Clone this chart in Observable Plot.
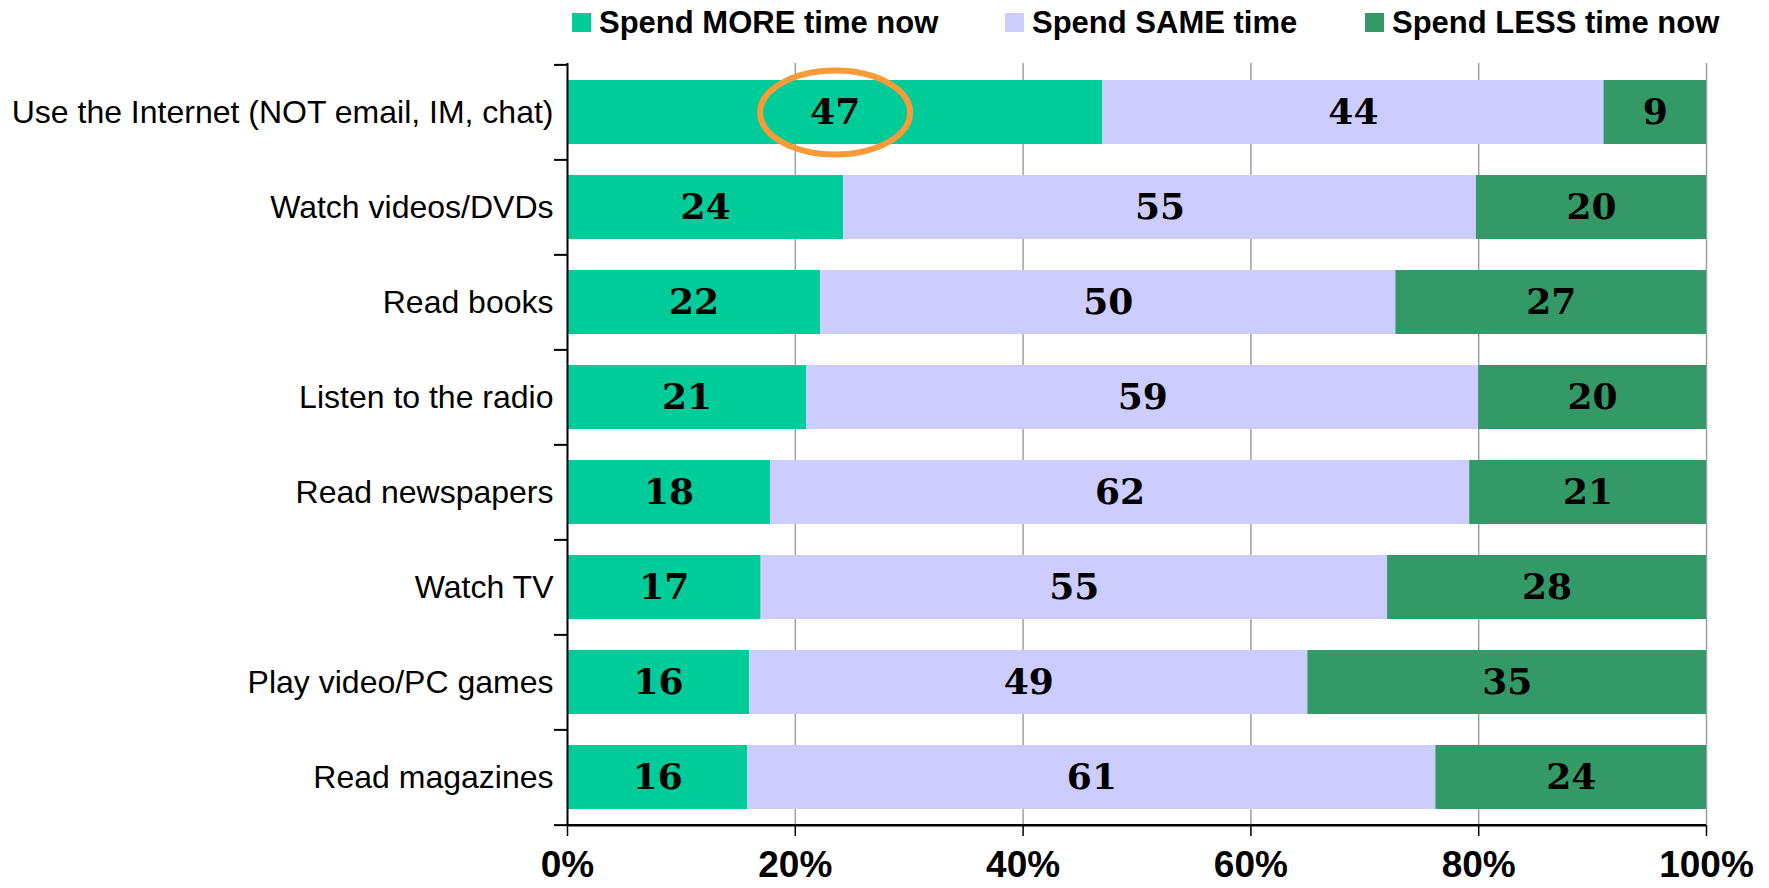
<!DOCTYPE html>
<html>
<head>
<meta charset="utf-8">
<script src="https://cdn.jsdelivr.net/npm/d3@7"></script>
<script src="https://cdn.jsdelivr.net/npm/@observablehq/plot@0.6"></script>
<style>
  html, body { margin: 0; padding: 0; background: #fff; }
  #wrap { position: relative; width: 1769px; height: 888px; overflow: hidden; }
  #legend { position: relative; height: 45px; }
  .item { position: absolute; top: 0; height: 45px; display: flex; align-items: center;
          font-family: "Liberation Sans", Arial, sans-serif;
          font-weight: bold; font-size: 31px; color: #000; white-space: nowrap; }
  .sw { width: 19px; height: 19px; margin-right: 8px; }
  svg { display: block; }
</style>
</head>
<body>
<div id="wrap">
  <div id="legend"></div>
  <div id="chart"></div>
</div>
<script>
const activities = [
  "Use the Internet (NOT email, IM, chat)",
  "Watch videos/DVDs",
  "Read books",
  "Listen to the radio",
  "Read newspapers",
  "Watch TV",
  "Play video/PC games",
  "Read magazines"
];
const series = ["Spend MORE time now", "Spend SAME time", "Spend LESS time now"];
const moreTime = [47, 24, 22, 21, 18, 17, 16, 16];
const sameTime = [44, 55, 50, 59, 62, 55, 49, 61];
const lessTime = [9, 20, 27, 20, 21, 28, 35, 24];
const xTicks = [0, 0.2, 0.4, 0.6, 0.8, 1];
const gridTicks = [0.2, 0.4, 0.6, 0.8, 1];
const seriesColors = ["#00CC99", "#CCCCFF", "#339966"];
const highlightActivity = activities[0];
const highlightSeries = series[0];

// build table
const valuesBySeries = [moreTime, sameTime, lessTime];
const data = [];
activities.forEach((a, i) => {
  series.forEach((s, j) => {
    data.push({activity: a, series: s, value: valuesBySeries[j][i],
               hl: (a === highlightActivity && s === highlightSeries) ? 1 : 0});
  });
});

// legend
const legendLeft = [572, 1005, 1365];
const legend = document.getElementById("legend");
series.forEach((s, j) => {
  const it = document.createElement("div");
  it.className = "item";
  it.style.left = legendLeft[j] + "px";
  const sw = document.createElement("div");
  sw.className = "sw";
  sw.style.background = seriesColors[j];
  it.appendChild(sw);
  const t = document.createElement("span");
  t.textContent = s;
  it.appendChild(t);
  legend.appendChild(it);
});

const W = 1769, H = 843, mt = 18, mb = 63, ml = 567, mr = 63;
const step = (H - mt - mb) / activities.length;

// ellipse symbol
const ellipse = {
  draw(context, size) {
    const rx = 75, ry = 42, k = 0.5523;
    context.moveTo(rx, 0);
    context.bezierCurveTo(rx, ry * k, rx * k, ry, 0, ry);
    context.bezierCurveTo(-rx * k, ry, -rx, ry * k, -rx, 0);
    context.bezierCurveTo(-rx, -ry * k, -rx * k, -ry, 0, -ry);
    context.bezierCurveTo(rx * k, -ry, rx, -ry * k, rx, 0);
    context.closePath();
  }
};

const stackOpts = {x: "value", y: "activity", z: "series", offset: "normalize", order: null};

const plot = Plot.plot({
  width: W,
  height: H,
  marginTop: mt,
  marginBottom: mb,
  marginLeft: ml,
  marginRight: mr,
  style: {fontFamily: "'Liberation Sans', Arial, sans-serif", fontSize: "32px", color: "#000", background: "#fff", overflow: "visible"},
  x: {domain: [0, 1], axis: null, label: null},
  y: {domain: activities, paddingInner: 0.33, paddingOuter: 0.165, axis: null, label: null},
  color: {domain: series, range: seriesColors},
  marks: [
    Plot.ruleX(gridTicks, {stroke: "#a0a0a0", strokeWidth: 1.5}),
    Plot.barX(data, Plot.stackX({...stackOpts, fill: "series", inset: 0})),
    Plot.text(data, Plot.stackX({...stackOpts, text: "value",
      fontFamily: "'DejaVu Serif', serif", fontWeight: "bold", fontSize: 36, fill: "#000"})),
    Plot.dot(data, Plot.stackX({...stackOpts, symbol: ellipse, r: 10, fill: "none",
      stroke: "#F79A38", strokeWidth: 6, strokeOpacity: "hl"})),
    Plot.ruleX([0], {stroke: "#000", strokeWidth: 2}),
    Plot.ruleY([activities[activities.length - 1]], {stroke: "#000", strokeWidth: 2.5, dy: step / 2}),
    Plot.axisY({tickSize: 0, tickPadding: 14, fontSize: 32, fill: "#000", label: null}),
    Plot.axisY({text: null, tickSize: 13, dy: -step / 2, stroke: "#000", strokeWidth: 2, label: null}),
    Plot.axisY({ticks: [activities[activities.length - 1]], text: null, tickSize: 13, dy: step / 2, stroke: "#000", strokeWidth: 2, label: null}),
    Plot.axisX({ticks: xTicks, tickFormat: d3.format(".0%"), tickSize: 11, tickPadding: 14,
      fontSize: 37, fontWeight: "bold", stroke: "#000", strokeWidth: 1.5, label: null,
      fontFamily: "'Liberation Sans', Arial, sans-serif"})
  ]
});
document.getElementById("chart").appendChild(plot);
</script>
</body>
</html>
